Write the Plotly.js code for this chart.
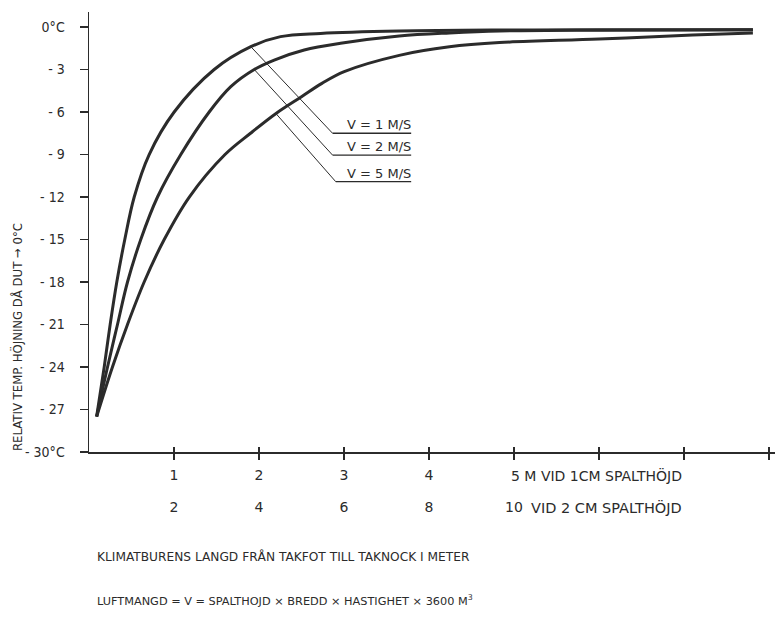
<!DOCTYPE html>
<html>
<head>
<meta charset="utf-8">
<script src="https://cdn.plot.ly/plotly-3.0.1.min.js"></script>
<style>
  html, body { margin: 0; padding: 0; background: #ffffff; }
  #chart { width: 778px; height: 621px; }
</style>
</head>
<body>
<div id="chart"></div>
<script>
// ---- Data ----
const seriesNames = ["V = 1 M/S", "V = 2 M/S", "V = 5 M/S"];

const curve1X = [0.09, 0.179, 0.249, 0.327, 0.421, 0.532, 0.708, 1.002, 1.473, 1.904, 2.253, 2.724, 3.65, 4.83, 6.0, 7.81];
const curve1Y = [-27.5, -24.0, -21.0, -18.0, -15.0, -12.0, -9.0, -6.0, -3.0, -1.39, -0.68, -0.45, -0.28, -0.21, -0.2, -0.2];

const curve2X = [0.09, 0.218, 0.335, 0.453, 0.609, 0.806, 1.08, 1.414, 1.668, 1.944, 2.179, 2.532, 2.959, 3.65, 4.24, 4.83, 6.0, 7.81];
const curve2Y = [-27.5, -24.0, -21.0, -18.0, -15.0, -12.0, -9.0, -6.0, -4.21, -3.0, -2.33, -1.62, -1.15, -0.64, -0.42, -0.28, -0.22, -0.2];

const curve3X = [0.09, 0.276, 0.453, 0.649, 0.885, 1.18, 1.60, 1.90, 2.20, 2.50, 2.74, 3.002, 3.65, 4.24, 4.83, 6.0, 7.1, 7.81];
const curve3Y = [-27.5, -24.0, -21.0, -18.0, -15.0, -12.0, -9.0, -7.5, -6.1, -4.92, -3.98, -3.15, -2.0, -1.4, -1.1, -0.85, -0.56, -0.42];

// leader lines: point on curve -> start of label underline -> end of underline
const leaderStartX = [1.904, 1.944, 2.198];
const leaderStartY = [-1.39, -3.0, -6.1];
const leaderEndX   = [2.865, 2.865, 2.903];
const labelRowY    = [-7.50, -9.04, -10.92];
const underlineEndX = 3.79;

const yTickVals = [0, -3, -6, -9, -12, -15, -18, -21, -24, -27, -30];
const yTickText = ["0°C", "- 3", "- 6", "- 9", "- 12", "- 15", "- 18", "- 21", "- 24", "- 27", "- 30°C"];

const xTickVals = [1, 2, 3, 4, 5, 6, 7, 8];
const xRow1Vals = [1, 2, 3, 4];
const xRow1Text = ["1", "2", "3", "4"];
const xRow2Vals = [1, 2, 3, 4, 5];
const xRow2Text = ["2", "4", "6", "8", "10"];

const row1Suffix = "5 M VID 1CM SPALTHÖJD";
const row2Suffix = "VID 2 CM SPALTHÖJD";
const xLabel = "KLIMATBURENS LANGD FRÅN TAKFOT TILL TAKNOCK I METER";
const formula = "LUFTMANGD = V = SPALTHOJD × BREDD × HASTIGHET × 3600 M<sup>3</sup>";
const yLabel = "RELATIV TEMP. HÖJNING DÅ DUT → 0°C";

// ---- Styling ----
const ink = "#2b2b2b";
const FONT_C = "DejaVu Sans Condensed, Liberation Sans Narrow, Arial Narrow, sans-serif";
const FONT_N = "DejaVu Sans, Liberation Sans, Arial, sans-serif";

const curveStyle = { color: ink, width: 3, shape: "spline", smoothing: 1 };

const traces = [
  { x: curve1X, y: curve1Y, name: seriesNames[0], mode: "lines", line: curveStyle, hoverinfo: "skip" },
  { x: curve2X, y: curve2Y, name: seriesNames[1], mode: "lines", line: curveStyle, hoverinfo: "skip" },
  { x: curve3X, y: curve3Y, name: seriesNames[2], mode: "lines", line: curveStyle, hoverinfo: "skip" },
  { x: [], y: [], xaxis: "x2", yaxis: "y", mode: "lines", showlegend: false, hoverinfo: "skip" },
  { x: [], y: [], xaxis: "x3", yaxis: "y", mode: "lines", showlegend: false, hoverinfo: "skip" },
  { x: [], y: [], xaxis: "x4", yaxis: "y", mode: "lines", showlegend: false, hoverinfo: "skip" }
];

const shapes = [];
const annotations = [];
for (let i = 0; i < seriesNames.length; i++) {
  shapes.push({ type: "line", xref: "x", yref: "y",
    x0: leaderStartX[i], y0: leaderStartY[i], x1: leaderEndX[i], y1: labelRowY[i],
    line: { color: ink, width: 1 } });
  shapes.push({ type: "line", xref: "x", yref: "y",
    x0: leaderEndX[i], y0: labelRowY[i], x1: underlineEndX, y1: labelRowY[i],
    line: { color: ink, width: 1.3 } });
  annotations.push({ xref: "x", yref: "y", x: underlineEndX, y: labelRowY[i],
    xanchor: "right", yanchor: "bottom", showarrow: false, text: seriesNames[i],
    font: { family: FONT_N, size: 13, color: ink }, yshift: -1, xshift: 2 });
}

annotations.push({ xref: "x", yref: "paper", x: 5, y: 0, xanchor: "left", yanchor: "top",
  xshift: -5, yshift: -13, showarrow: false, text: row1Suffix,
  font: { family: FONT_N, size: 14, color: ink } });
annotations.push({ xref: "x", yref: "paper", x: 5, y: 0, xanchor: "left", yanchor: "top",
  xshift: 15, yshift: -45, showarrow: false, text: row2Suffix,
  font: { family: FONT_N, size: 14.5, color: ink } });
annotations.push({ xref: "paper", yref: "paper", x: 0, y: 0, xanchor: "left", yanchor: "top",
  xshift: 6, yshift: -95, showarrow: false, text: xLabel,
  font: { family: FONT_N, size: 12.2, color: ink } });
annotations.push({ xref: "paper", yref: "paper", x: 0, y: 0, xanchor: "left", yanchor: "top",
  xshift: 6, yshift: -139, showarrow: false, text: formula,
  font: { family: FONT_N, size: 11.3, color: ink } });
annotations.push({ xref: "paper", yref: "paper", x: 0, y: 0, xanchor: "center", yanchor: "middle",
  xshift: -72, yshift: 115, showarrow: false, text: yLabel, textangle: -90,
  font: { family: FONT_C, size: 13, color: ink } });

const baseX = { showgrid: false, zeroline: false, showline: false };

const layout = {
  width: 778, height: 621,
  margin: { l: 89, r: 3, t: 12, b: 169 },
  paper_bgcolor: "#ffffff", plot_bgcolor: "#ffffff",
  showlegend: false,
  font: { family: FONT_N, size: 12, color: ink },
  xaxis: {
    range: [0, 8.07], showgrid: false, zeroline: false,
    showline: true, linecolor: ink, linewidth: 1.5,
    ticks: "outside", ticklen: 6, tickwidth: 1.3, tickcolor: ink,
    tickvals: xTickVals, showticklabels: false
  },
  xaxis2: Object.assign({}, baseX, {
    overlaying: "x", matches: "x", anchor: "y", side: "bottom",
    ticks: "inside", ticklen: 5, tickwidth: 1.3, tickcolor: ink,
    tickvals: xTickVals, showticklabels: false
  }),
  xaxis3: Object.assign({}, baseX, {
    overlaying: "x", matches: "x", anchor: "y", side: "bottom",
    ticks: "", tickvals: xRow1Vals, ticktext: xRow1Text,
    ticklabelstandoff: 13,
    tickfont: { family: FONT_N, size: 14, color: ink }
  }),
  xaxis4: Object.assign({}, baseX, {
    overlaying: "x", matches: "x", anchor: "y", side: "bottom",
    ticks: "", tickvals: xRow2Vals, ticktext: xRow2Text,
    ticklabelstandoff: 45,
    tickfont: { family: FONT_N, size: 14, color: ink }
  }),
  yaxis: {
    range: [-30, 1.06], showgrid: false, zeroline: false,
    showline: true, linecolor: ink, linewidth: 1.5,
    ticks: "outside", ticklen: 8, tickwidth: 1.3, tickcolor: ink,
    tickvals: yTickVals, ticktext: yTickText,
    ticklabelstandoff: 12,
    tickfont: { family: FONT_C, size: 14, color: ink }
  },
  shapes: shapes,
  annotations: annotations
};

Plotly.newPlot("chart", traces, layout, { staticPlot: true, displayModeBar: false });
</script>
</body>
</html>
